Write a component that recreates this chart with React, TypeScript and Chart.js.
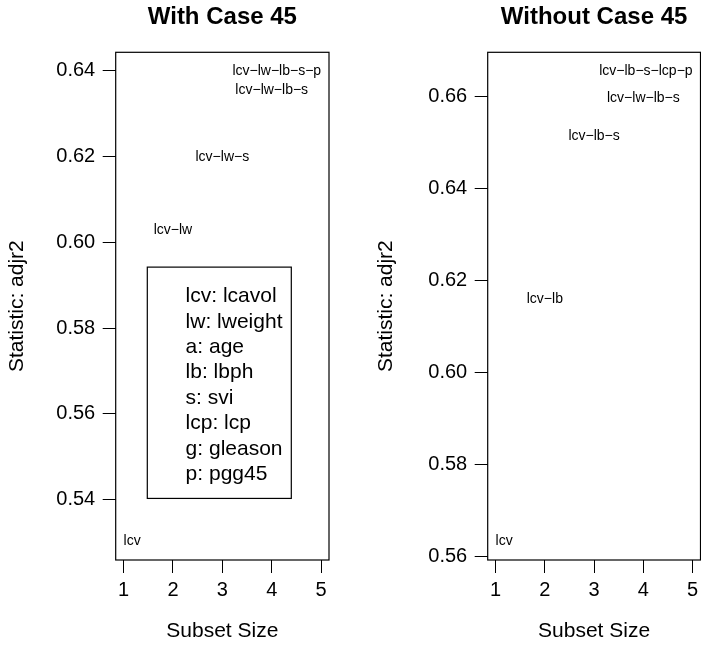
import React, { useEffect, useRef } from "react";
import { Chart, registerables } from "chart.js";

Chart.register(...registerables);

const FONT = "'Liberation Sans', Arial, Helvetica, sans-serif";

// ---- data ----
const subsetSizes = [1, 2, 3, 4, 5];
const xTicks = [1, 2, 3, 4, 5];

const labelsWith = ["lcv", "lcv−lw", "lcv−lw−s", "lcv−lw−lb−s", "lcv−lw−lb−s−p"];
const adjr2With = [0.5303, 0.6028, 0.6199, 0.6354, 0.6399];
const yTicksWith = [0.54, 0.56, 0.58, 0.6, 0.62, 0.64];

const labelsWithout = ["lcv", "lcv−lb", "lcv−lb−s", "lcv−lw−lb−s", "lcv−lb−s−lcp−p"];
const adjr2Without = [0.5633, 0.616, 0.6515, 0.6597, 0.6656];
const yTicksWithout = [0.56, 0.58, 0.6, 0.62, 0.64, 0.66];

const legendLines = [
  "lcv: lcavol",
  "lw: lweight",
  "a: age",
  "lb: lbph",
  "s: svi",
  "lcp: lcp",
  "g: gleason",
  "p: pgg45",
];
// legend top-left corner, in data coordinates of the left panel
const legendAnchor = { x: 1.48, y: 0.5942 };

type PanelProps = {
  title: string;
  labels: string[];
  values: number[];
  yTicks: number[];
  left: number;
  width: number;
  yAxisWidth: number;
  padRight: number;
  yTitleX: number;
  showLegend: boolean;
};

function Panel(p: PanelProps) {
  const ref = useRef<HTMLCanvasElement>(null);

  useEffect(() => {
    if (!ref.current) return;
    const lo = Math.min(...p.values);
    const hi = Math.max(...p.values);
    const ext = (hi - lo) * 0.04;
    const xLo = Math.min(...subsetSizes);
    const xHi = Math.max(...subsetSizes);
    const xExt = (xHi - xLo) * 0.04;

    const overlay = {
      id: "overlay",
      afterDraw(chart: any) {
        const ctx = chart.ctx as CanvasRenderingContext2D;
        const ca = chart.chartArea;
        const xs = chart.scales.x;
        const ys = chart.scales.y;
        ctx.save();
        // box
        ctx.strokeStyle = "#000";
        ctx.lineWidth = 1.2;
        ctx.strokeRect(ca.left, ca.top, ca.right - ca.left, ca.bottom - ca.top);

        // subset labels
        ctx.fillStyle = "#000";
        ctx.font = `14px ${FONT}`;
        ctx.textBaseline = "middle";
        subsetSizes.forEach((s, i) => {
          const px = xs.getPixelForValue(s);
          const py = ys.getPixelForValue(p.values[i]);
          ctx.textAlign = s === xLo ? "left" : s === xHi ? "right" : "center";
          ctx.fillText(p.labels[i], px, py);
        });

        const cx = (ca.left + ca.right) / 2;
        // main title
        ctx.textBaseline = "alphabetic";
        ctx.textAlign = "center";
        ctx.font = `bold 24px ${FONT}`;
        ctx.fillText(p.title, cx, 23.5);
        // x title
        ctx.font = `21px ${FONT}`;
        ctx.fillText("Subset Size", cx, 637);
        // y title
        ctx.save();
        ctx.translate(p.yTitleX, (ca.top + ca.bottom) / 2);
        ctx.rotate(-Math.PI / 2);
        ctx.fillText("Statistic: adjr2", 0, 0);
        ctx.restore();

        // legend
        if (p.showLegend) {
          const lx = xs.getPixelForValue(legendAnchor.x);
          const ly = ys.getPixelForValue(legendAnchor.y);
          ctx.lineWidth = 1.2;
          ctx.strokeRect(lx, ly, 144, 231.3);
          ctx.font = `21px ${FONT}`;
          ctx.textAlign = "left";
          ctx.textBaseline = "alphabetic";
          legendLines.forEach((t, i) => {
            ctx.fillText(t, lx + 38.3, ly + 35 + i * 25.4);
          });
        }
        ctx.restore();
      },
    };

    const chart = new Chart(ref.current, {
      type: "scatter",
      data: {
        datasets: [
          {
            data: subsetSizes.map((x, i) => ({ x, y: p.values[i] })),
            pointRadius: 0,
            pointHoverRadius: 0,
            showLine: false,
          },
        ],
      },
      options: {
        animation: false,
        responsive: false,
        events: [],
        layout: { padding: { top: 52.3, right: p.padRight, bottom: 0, left: 0 } },
        plugins: {
          legend: { display: false },
          tooltip: { enabled: false },
          title: { display: false },
        },
        scales: {
          x: {
            type: "linear",
            min: xLo - xExt,
            max: xHi + xExt,
            afterBuildTicks: (s: any) => {
              s.ticks = xTicks.map((v) => ({ value: v }));
            },
            afterFit: (s: any) => {
              s.height = 85;
              s.paddingLeft = 0;
              s.paddingRight = 0;
            },
            grid: {
              drawOnChartArea: false,
              drawTicks: true,
              tickLength: 13,
              color: "#000",
              lineWidth: 1,
            },
            border: { display: false },
            ticks: {
              font: { family: FONT, size: 20 },
              color: "#000",
              padding: 5,
              maxRotation: 0,
              autoSkip: false,
              callback: (v: any) => String(v),
            },
          },
          y: {
            type: "linear",
            min: lo - ext,
            max: hi + ext,
            afterBuildTicks: (s: any) => {
              s.ticks = p.yTicks.map((v) => ({ value: v }));
            },
            afterFit: (s: any) => {
              s.width = p.yAxisWidth;
              s.paddingTop = 0;
              s.paddingBottom = 0;
            },
            grid: {
              drawOnChartArea: false,
              drawTicks: true,
              tickLength: 13,
              color: "#000",
              lineWidth: 1,
            },
            border: { display: false },
            ticks: {
              font: { family: FONT, size: 20 },
              color: "#000",
              padding: 7.5,
              autoSkip: false,
              callback: (v: any) => Number(v).toFixed(2),
            },
          },
        },
      },
      plugins: [overlay],
    } as any);
    return () => chart.destroy();
  }, []);

  return (
    <canvas
      ref={ref}
      width={p.width}
      height={645}
      style={{ position: "absolute", left: p.left, top: 0 }}
    />
  );
}

export default function App() {
  return (
    <div
      style={{
        position: "absolute",
        left: 0,
        top: 0,
        width: 701,
        height: 645,
        background: "#fff",
        overflow: "hidden",
      }}
    >
      <Panel
        title="With Case 45"
        labels={labelsWith}
        values={adjr2With}
        yTicks={yTicksWith}
        left={0}
        width={350}
        yAxisWidth={115.7}
        padRight={21}
        yTitleX={22.7}
        showLegend={true}
      />
      <Panel
        title="Without Case 45"
        labels={labelsWithout}
        values={adjr2Without}
        yTicks={yTicksWithout}
        left={350}
        width={351}
        yAxisWidth={137.7}
        padRight={0.5}
        yTitleX={42}
        showLegend={false}
      />
    </div>
  );
}
